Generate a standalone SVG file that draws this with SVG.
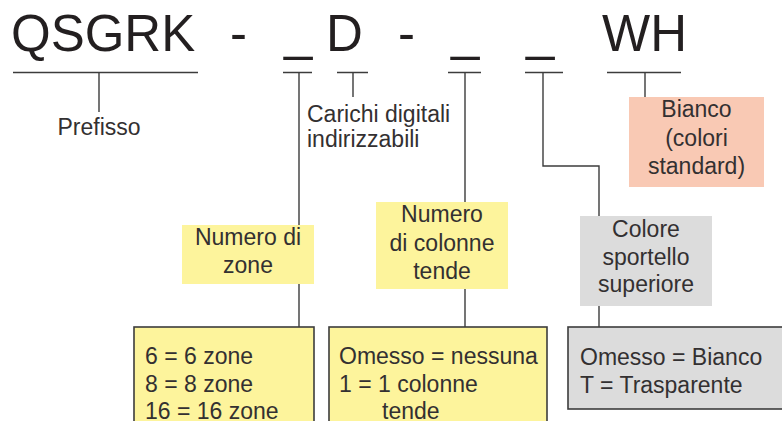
<svg xmlns="http://www.w3.org/2000/svg" width="782" height="421" viewBox="0 0 782 421">
<style>
.code{font-family:"Liberation Sans",Arial,sans-serif;font-size:51px;fill:#231f20}
.lbl{font-family:"Liberation Sans",Arial,sans-serif;font-size:23px;fill:#333031}
.mid{text-anchor:middle}
.ln{fill:none;stroke:#3c3c3c;stroke-width:1.4}
.yel{fill:#fdf49c}
.sal{fill:#f9c9b4}
.gry{fill:#dcdcdc}
.bord{stroke:#3c3c3c;stroke-width:1.6}
</style>
<rect width="782" height="421" fill="#ffffff"/>
<g id="code">
<text class="code" x="11" y="51">QSGRK</text>
<text class="code" x="230" y="51">-</text>
<text class="code" x="284" y="50">_</text>
<text class="code" x="326" y="51">D</text>
<text class="code" x="398" y="51">-</text>
<text class="code" x="451" y="50">_</text>
<text class="code" x="526" y="50">_</text>
<text class="code" x="602" y="51">WH</text>
</g>
<g id="connectors">
<path class="ln" d="M13 72.5H198M99 72.5V112"/>
<path class="ln" d="M283 72.5H312M299 72.5V327"/>
<path class="ln" d="M337 72.5H368M353 72.5V97"/>
<path class="ln" d="M448 72.5H481M465 72.5V327"/>
<path class="ln" d="M525 72.5H563M543 72.5V166H599V327"/>
<path class="ln" d="M607 72.5H681M645 72.5V97"/>
</g>
<g id="prefisso">
<text class="lbl mid" x="99" y="135">Prefisso</text>
</g>
<g id="carichi">
<text class="lbl" x="307" y="122">Carichi digitali</text>
<text class="lbl" x="307" y="147">indirizzabili</text>
</g>
<g id="bianco">
<rect class="sal" x="629" y="97" width="135" height="90"/>
<text class="lbl mid" x="696.5" y="117">Bianco</text>
<text class="lbl mid" x="696.5" y="145.5">(colori</text>
<text class="lbl mid" x="696.5" y="174">standard)</text>
</g>
<g id="numero-zone">
<rect class="yel" x="182" y="225" width="132" height="59"/>
<text class="lbl mid" x="248" y="245">Numero di</text>
<text class="lbl mid" x="248" y="273">zone</text>
</g>
<g id="numero-colonne">
<rect class="yel" x="376" y="202" width="132" height="87"/>
<text class="lbl mid" x="442" y="222">Numero</text>
<text class="lbl mid" x="442" y="250.5">di colonne</text>
<text class="lbl mid" x="442" y="279">tende</text>
</g>
<g id="colore">
<rect class="gry" x="580" y="216" width="132" height="90"/>
<text class="lbl mid" x="646" y="237">Colore</text>
<text class="lbl mid" x="646" y="265">sportello</text>
<text class="lbl mid" x="646" y="292">superiore</text>
</g>
<g id="zone-values">
<rect class="yel bord" x="134" y="327" width="180" height="100"/>
<text class="lbl" x="145" y="364">6 = 6 zone</text>
<text class="lbl" x="145" y="392">8 = 8 zone</text>
<text class="lbl" x="145" y="419">16 = 16 zone</text>
</g>
<g id="colonne-values">
<rect class="yel bord" x="329" y="327" width="218" height="100"/>
<text class="lbl" x="339" y="364">Omesso = nessuna</text>
<text class="lbl" x="339" y="392">1 = 1 colonne</text>
<text class="lbl" x="382" y="419">tende</text>
</g>
<g id="colore-values">
<rect class="gry bord" x="568" y="327" width="220" height="82"/>
<text class="lbl" x="580" y="365">Omesso = Bianco</text>
<text class="lbl" x="580" y="393">T = Trasparente</text>
</g>
</svg>
